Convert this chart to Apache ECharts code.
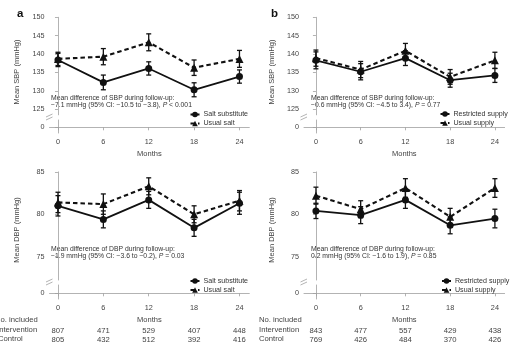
<!DOCTYPE html>
<html>
<head>
<meta charset="utf-8">
<script src="https://cdn.jsdelivr.net/npm/echarts@6/dist/echarts.min.js"></script>
<style>
html, body { margin: 0; padding: 0; background: #fff; }
#chart { width: 519px; height: 350px; }
</style>
</head>
<body>
<div id="chart"></div>
<script>
var months = [0, 6, 12, 18, 24];

// SBP, panel a
var sbpSubstitute = [138.4, 132.3, 136.1, 130.3, 133.9];
var sbpSubstituteErr = [1.8, 2.0, 1.8, 1.9, 1.8];
var sbpUsualSalt = [138.7, 139.3, 143.2, 136.3, 138.7];
var sbpUsualSaltErr = [1.8, 2.2, 2.3, 2.1, 2.3];
// SBP, panel b
var sbpRestricted = [138.3, 135.2, 138.9, 132.9, 134.2];
var sbpRestrictedErr = [2.3, 2.2, 2.0, 1.9, 1.9];
var sbpUsualSupply = [138.9, 135.8, 140.9, 133.8, 138.3];
var sbpUsualSupplyErr = [2.2, 2.2, 2.0, 2.0, 2.2];
// DBP, panel a
var dbpSubstitute = [81.0, 79.4, 81.7, 78.4, 81.3];
var dbpSubstituteErr = [1.2, 1.0, 1.0, 1.0, 1.3];
var dbpUsualSalt = [81.4, 81.2, 83.3, 80.0, 81.6];
var dbpUsualSaltErr = [1.2, 1.2, 1.0, 1.0, 1.2];
// DBP, panel b
var dbpRestricted = [80.4, 79.9, 81.7, 78.7, 79.5];
var dbpRestrictedErr = [0.9, 1.0, 1.0, 1.0, 1.1];
var dbpUsualSupply = [82.2, 80.6, 83.1, 79.7, 83.1];
var dbpUsualSupplyErr = [1.0, 1.0, 1.1, 1.0, 1.1];

// numbers included
var aIntervention = [807, 471, 529, 407, 448];
var aControl = [805, 432, 512, 392, 416];
var bIntervention = [843, 477, 557, 429, 438];
var bControl = [769, 426, 484, 370, 426];

var sbpTicks = [125, 130, 135, 140, 145, 150];
var dbpTicks = [75, 80, 85];
var zeroTick = [0];

var FONT = 'Liberation Sans, Arial, sans-serif';
var AXIS_COLOR = '#a0a0a0';
var TEXT_COLOR = '#444';

var colA = { left: 49.5, width: 199.8, min: -1.12, max: 25.3 };
var colB = { left: 304, width: 200.6, min: -1.6, max: 25.3 };
var rowTopUp = { top: 17.3, height: 97.5 };
var rowTopLow = { top: 120, height: 13 };
var rowBotUp = { top: 171.9, height: 108.1 };
var rowBotLow = { top: 285, height: 14 };

function makeGrid(col, row) {
	return { left: col.left, width: col.width, top: row.top, height: row.height };
}

function pairs(vals) {
	var out = [];
	for (var i = 0; i < months.length; i++) {
		out.push([months[i], vals[i]]);
	}
	return out;
}

function errData(vals, errs) {
	var out = [];
	for (var i = 0; i < months.length; i++) {
		out.push([months[i], vals[i] - errs[i], vals[i] + errs[i]]);
	}
	return out;
}

function hiddenX(idx, col) {
	return { gridIndex: idx, type: 'value', min: col.min, max: col.max, show: false };
}

function shownX(idx, col) {
	return {
		gridIndex: idx, type: 'value', min: col.min, max: col.max,
		name: 'Months', nameLocation: 'middle', nameGap: 17,
		nameTextStyle: { fontSize: 7.5, color: TEXT_COLOR, fontFamily: FONT },
		axisLine: { show: true, lineStyle: { color: AXIS_COLOR, width: 0.8 } },
		axisTick: { show: true, length: 3, customValues: months, lineStyle: { color: AXIS_COLOR, width: 0.8 } },
		axisLabel: { customValues: months, margin: 5, fontSize: 7.3, color: TEXT_COLOR, fontFamily: FONT },
		splitLine: { show: false }
	};
}

function tableX(idx, col, counts, offset) {
	return {
		gridIndex: idx, type: 'value', min: col.min, max: col.max, position: 'bottom', offset: offset,
		axisLine: { show: false }, axisTick: { show: false }, splitLine: { show: false },
		axisLabel: {
			customValues: months, margin: 5, fontSize: 7.7, color: TEXT_COLOR, fontFamily: FONT,
			formatter: function(v) {
				var i = months.indexOf(v);
				return i < 0 ? '' : String(counts[i]);
			}
		}
	};
}

function makeY(idx, min, max, ticks) {
	return {
		gridIndex: idx, type: 'value', min: min, max: max,
		axisLine: { show: true, lineStyle: { color: AXIS_COLOR, width: 0.8 } },
		axisTick: { show: true, length: 3, customValues: ticks, lineStyle: { color: AXIS_COLOR, width: 0.8 } },
		axisLabel: { customValues: ticks, margin: 5, fontSize: 7.2, color: TEXT_COLOR, fontFamily: FONT },
		splitLine: { show: false }
	};
}

function lineSeries(name, axis, vals, dashed) {
	return {
		name: name, type: 'line', xAxisIndex: axis, yAxisIndex: axis,
		data: pairs(vals),
		symbol: dashed ? 'triangle' : 'circle',
		symbolSize: dashed ? 8 : 7,
		itemStyle: { color: '#111' },
		lineStyle: { color: '#111', width: dashed ? 2.1 : 1.8, type: dashed ? [4.5, 3] : 'solid' },
		z: 3
	};
}

function errSeries(axis, vals, errs) {
	return {
		type: 'custom', xAxisIndex: axis, yAxisIndex: axis,
		data: errData(vals, errs),
		encode: { x: 0, y: [1, 2] },
		z: 4,
		renderItem: function(params, api) {
			var x = api.value(0);
			var top = api.coord([x, api.value(2)]);
			var bot = api.coord([x, api.value(1)]);
			var st = { stroke: '#111', lineWidth: 1.3 };
			return {
				type: 'group',
				children: [
					{ type: 'line', shape: { x1: top[0], y1: top[1], x2: bot[0], y2: bot[1] }, style: st },
					{ type: 'line', shape: { x1: top[0] - 2.5, y1: top[1], x2: top[0] + 2.5, y2: top[1] }, style: st },
					{ type: 'line', shape: { x1: bot[0] - 2.5, y1: bot[1], x2: bot[0] + 2.5, y2: bot[1] }, style: st }
				]
			};
		}
	};
}

function legendAt(names, left, top) {
	return {
		data: names, orient: 'vertical', left: left, top: top, padding: 0,
		itemWidth: 9, itemHeight: 7, itemGap: 2,
		textStyle: { fontSize: 7.1, color: '#333', fontFamily: FONT, padding: [0, 0, 0, -1] },
		selectedMode: false
	};
}

function note(x, y, first, second, p) {
	return {
		type: 'text', x: x, y: y,
		style: {
			text: '{n|' + first + '}\n{n|' + second + '}{i|P}{n|' + p + '}',
			rich: {
				n: { fontSize: 6.8, lineHeight: 7.2, fill: '#333', fontFamily: FONT },
				i: { fontSize: 6.8, lineHeight: 7.2, fill: '#333', fontFamily: FONT, fontStyle: 'italic' }
			}
		}
	};
}

function breakMark(x, y) {
	return [
		{ type: 'line', shape: { x1: x - 3.5, y1: y + 0.5, x2: x + 3, y2: y - 2.5 }, style: { stroke: AXIS_COLOR, lineWidth: 0.8 } },
		{ type: 'line', shape: { x1: x - 3.5, y1: y + 3.5, x2: x + 3, y2: y + 0.5 }, style: { stroke: AXIS_COLOR, lineWidth: 0.8 } }
	];
}

function plainText(x, y, text, size, extra) {
	var o = { type: 'text', x: x, y: y, style: { text: text, fontSize: size, fill: TEXT_COLOR, fontFamily: FONT, verticalAlign: 'middle' } };
	for (var k in extra) { o.style[k] = extra[k]; }
	return o;
}

function yName(x, y, text) {
	return {
		type: 'text', x: x, y: y, rotation: Math.PI / 2,
		style: { text: text, fontSize: 7.5, fill: TEXT_COLOR, fontFamily: FONT, align: 'center', verticalAlign: 'middle' }
	};
}

var graphics = [
	plainText(17, 13.5, 'a', 11.5, { fontWeight: 'bold', fill: '#111' }),
	plainText(271, 13.5, 'b', 11.5, { fontWeight: 'bold', fill: '#111' }),
	yName(17, 72, 'Mean SBP (mmHg)'),
	yName(272, 72, 'Mean SBP (mmHg)'),
	yName(17, 230, 'Mean DBP (mmHg)'),
	yName(272, 230, 'Mean DBP (mmHg)'),
	note(51, 94.1, 'Mean difference of SBP during follow-up:', '\u22127.1 mmHg (95% CI: \u221210.5 to \u22123.8), ', ' < 0.001'),
	note(311, 94.1, 'Mean difference of SBP during follow-up:', '\u22120.6 mmHg (95% CI: \u22124.5 to 3.4), ', ' = 0.77'),
	note(51, 245.1, 'Mean difference of DBP during follow-up:', '\u22121.9 mmHg (95% CI: \u22123.6 to \u22120.2), ', ' = 0.03'),
	note(311, 245.1, 'Mean difference of DBP during follow-up:', '0.2 mmHg (95% CI: \u22121.6 to 1.9), ', ' = 0.85'),
	plainText(-5, 320, 'No. included', 7.7, {}),
	plainText(-3, 329.7, 'Intervention', 7.7, {}),
	plainText(-2, 339.3, 'Control', 7.7, {}),
	plainText(259, 320, 'No. included', 7.7, {}),
	plainText(259, 329.7, 'Intervention', 7.7, {}),
	plainText(259, 339.3, 'Control', 7.7, {})
].concat(breakMark(49.5, 116.5), breakMark(304, 116.5), breakMark(49.5, 281.5), breakMark(304, 281.5));

var option = {
	animation: false,
	backgroundColor: '#fff',
	textStyle: { fontFamily: FONT },
	grid: [
		makeGrid(colA, rowTopUp), makeGrid(colA, rowTopLow),
		makeGrid(colB, rowTopUp), makeGrid(colB, rowTopLow),
		makeGrid(colA, rowBotUp), makeGrid(colA, rowBotLow),
		makeGrid(colB, rowBotUp), makeGrid(colB, rowBotLow)
	],
	xAxis: [
		hiddenX(0, colA), shownX(1, colA),
		hiddenX(2, colB), shownX(3, colB),
		hiddenX(4, colA), shownX(5, colA),
		hiddenX(6, colB), shownX(7, colB),
		tableX(5, colA, aIntervention, 22.4), tableX(5, colA, aControl, 32),
		tableX(7, colB, bIntervention, 22.4), tableX(7, colB, bControl, 32)
	],
	yAxis: [
		makeY(0, 123.5, 150, sbpTicks), makeY(1, -1, 1.28, zeroTick),
		makeY(2, 123.5, 150, sbpTicks), makeY(3, -1, 1.28, zeroTick),
		makeY(4, 72.25, 85, dbpTicks), makeY(5, -1, 1.457, zeroTick),
		makeY(6, 72.25, 85, dbpTicks), makeY(7, -1, 1.457, zeroTick)
	],
	legend: [
		legendAt(['Salt substitute', 'Usual salt'], 189.5, 111),
		legendAt(['Restricted supply', 'Usual supply'], 439.5, 110.5),
		legendAt(['Salt substitute', 'Usual salt'], 189.5, 277.5),
		legendAt(['Restricted supply', 'Usual supply'], 441, 277.5)
	],
	graphic: graphics,
	series: [
		lineSeries('Usual salt', 0, sbpUsualSalt, true),
		lineSeries('Salt substitute', 0, sbpSubstitute, false),
		errSeries(0, sbpUsualSalt, sbpUsualSaltErr),
		errSeries(0, sbpSubstitute, sbpSubstituteErr),

		lineSeries('Usual supply', 2, sbpUsualSupply, true),
		lineSeries('Restricted supply', 2, sbpRestricted, false),
		errSeries(2, sbpUsualSupply, sbpUsualSupplyErr),
		errSeries(2, sbpRestricted, sbpRestrictedErr),

		lineSeries('Usual salt', 4, dbpUsualSalt, true),
		lineSeries('Salt substitute', 4, dbpSubstitute, false),
		errSeries(4, dbpUsualSalt, dbpUsualSaltErr),
		errSeries(4, dbpSubstitute, dbpSubstituteErr),

		lineSeries('Usual supply', 6, dbpUsualSupply, true),
		lineSeries('Restricted supply', 6, dbpRestricted, false),
		errSeries(6, dbpUsualSupply, dbpUsualSupplyErr),
		errSeries(6, dbpRestricted, dbpRestrictedErr)
	]
};

var chart = echarts.init(document.getElementById('chart'));
chart.setOption(option);
</script>
</body>
</html>
